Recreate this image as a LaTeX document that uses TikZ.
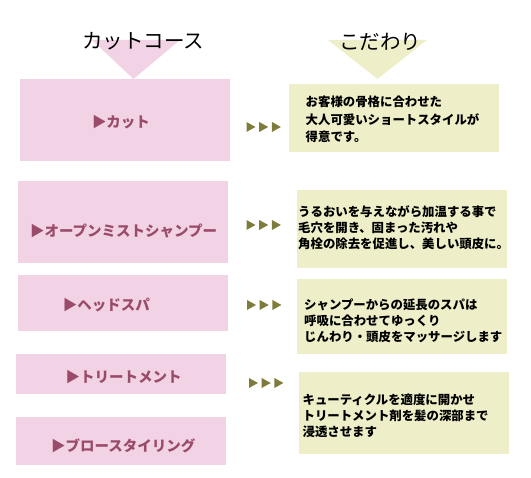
\documentclass[tikz,border=0pt]{standalone}
\usepackage{fontspec}
\usetikzlibrary{fit}
\newfontfamily\jp{Noto Sans CJK JP}
\definecolor{pinkfill}{HTML}{F2D3E6}
\definecolor{pinktext}{HTML}{9A4B69}
\definecolor{yellowfill}{HTML}{EEEFC8}
\definecolor{olivetri}{HTML}{7E7C3A}
\tikzset{
  pinkbox/.style={fill=pinkfill, draw=none, inner sep=0pt},
  yellowbox/.style={fill=yellowfill, draw=none, inner sep=0pt},
  pinklabel/.style={text=pinktext, inner sep=0pt, font=\jp\bfseries\fontsize{14.5}{17}\selectfont},
  desctext/.style={text=black, inner sep=0pt, anchor=north west, align=left, font=\jp\bfseries\fontsize{12.4}{#1}\selectfont},
  titletext/.style={text=black, inner sep=0pt, font=\jp\fontsize{20.5}{24}\selectfont},
  tri3/.pic={\foreach \i in {0,1,2} {\fill[olivetri] (\i*12.7,-5) -- ++(9,5) -- ++(-9,5) -- cycle;}}
}
\begin{document}
\begin{tikzpicture}[x=1pt,y=-1pt]
\useasboundingbox (0,0) rectangle (531,478);
% header triangles
\fill[pinkfill] (92,40) -- (180,40) -- (133.5,79) -- cycle;
\fill[yellowfill] (328,40) -- (427,40) -- (377.5,79) -- cycle;
\node[titletext] (t1) at (143,41.5) {カットコース};
\node[titletext] (t2) at (380,42) {こだわり};
% left boxes
\node[pinkbox, fit={(20,79) (230,161)}] (p1) {};
\node[pinkbox, fit={(17.6,181) (228,263)}] (p2) {};
\node[pinkbox, fit={(17.6,275) (228,331)}] (p3) {};
\node[pinkbox, fit={(16.3,354) (226,394)}] (p4) {};
\node[pinkbox, fit={(16.3,417) (226,465)}] (p5) {};
\node[pinklabel] (l1) at (121,122) {▶カット};
\node[pinklabel] (l2) at (123.6,231) {▶オープンミストシャンプー};
\node[pinklabel] (l3) at (106.4,305.5) {▶ヘッドスパ};
\node[pinklabel] (l4) at (123.6,377) {▶トリートメント};
\node[pinklabel] (l5) at (123.3,446) {▶ブロースタイリング};
% right boxes
\node[yellowbox, fit={(288.5,84) (499,152)}] (y1) {};
\node[yellowbox, fit={(297.3,190) (507,268)}] (y2) {};
\node[yellowbox, fit={(297.3,279) (507,354)}] (y3) {};
\node[yellowbox, fit={(299.4,372) (508.7,454)}] (y4) {};
\node[desctext=17.7] (d1) at (305.5,95.5) {お客様の骨格に合わせた\\大人可愛いショートスタイルが\\得意です。};
\node[desctext=16.3] (d2) at (298,205.3) {うるおいを与えながら加温する事で\\毛穴を開き、固まった汚れや\\角栓の除去を促進し、美しい頭皮に。};
\node[desctext=15.7] (d3) at (304,298.8) {シャンプーからの延長のスパは\\呼吸に合わせてゆっくり\\じんわり・頭皮をマッサージします};
\node[desctext=16.1] (d4) at (302.4,393.4) {キューティクルを適度に開かせ\\トリートメント剤を髪の深部まで\\浸透させます};
% arrows
\pic (a1) at (246.5,127) {tri3};
\pic (a2) at (246.5,225) {tri3};
\pic (a3) at (247,305) {tri3};
\pic (a4) at (249,383) {tri3};
\end{tikzpicture}
\end{document}
